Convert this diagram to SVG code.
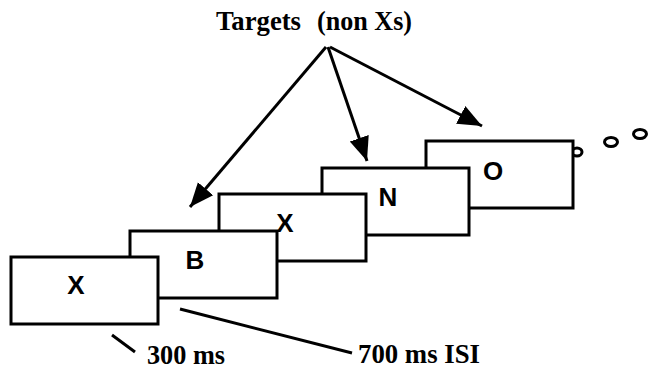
<svg xmlns="http://www.w3.org/2000/svg" width="648" height="370" viewBox="0 0 648 370">
<defs>
<style>
.box{fill:#fff;stroke:#000;stroke-width:3}
.let{font-family:"Liberation Sans",Arial,sans-serif;font-weight:bold;font-size:26px;fill:#000;text-anchor:middle}
.lab{font-family:"Liberation Serif","Times New Roman",serif;font-weight:bold;font-size:28px;fill:#000}
.ln{stroke:#000;stroke-width:3;fill:none}
.dot{fill:none;stroke:#000;stroke-width:3}
</style>
<marker id="ah" markerUnits="userSpaceOnUse" markerWidth="26" markerHeight="22" viewBox="0 0 26 22" refX="24" refY="11" orient="auto">
<path d="M0,1 L24,11 L0,21 Z" fill="#000"/>
</marker>
</defs>
<rect width="648" height="370" fill="#fff"/>
<g id="dots">
<ellipse class="dot" cx="577" cy="152" rx="5" ry="4"/>
<ellipse class="dot" cx="611" cy="142" rx="6.5" ry="4.5"/>
<ellipse class="dot" cx="640" cy="134" rx="6.5" ry="4.5"/>
</g>
<g id="stim-O"><rect class="box" x="426" y="141" width="147" height="67"/><text class="let" x="493" y="180">O</text></g>
<g id="stim-N"><rect class="box" x="322" y="168" width="147" height="67"/><text class="let" x="388" y="206">N</text></g>
<g id="stim-X2"><rect class="box" x="219" y="194" width="147" height="67"/><text class="let" x="285" y="232">X</text></g>
<g id="stim-B"><rect class="box" x="130" y="231" width="147" height="67"/><text class="let" x="195" y="269">B</text></g>
<g id="stim-X1"><rect class="box" x="11" y="257" width="147" height="67"/><text class="let" x="76" y="294">X</text></g>
<g id="targets-label"><text class="lab" x="216" y="30" textLength="85" lengthAdjust="spacingAndGlyphs">Targets</text><text class="lab" x="317" y="30" textLength="95" lengthAdjust="spacingAndGlyphs">(non Xs)</text></g>
<g id="label-300"><text class="lab" x="147" y="364" textLength="78" lengthAdjust="spacingAndGlyphs">300 ms</text></g>
<g id="label-700"><text class="lab" x="358" y="363" textLength="122" lengthAdjust="spacingAndGlyphs">700 ms ISI</text></g>
<g id="connectors">
<line class="ln" x1="326" y1="47" x2="190" y2="207" marker-end="url(#ah)"/>
<line class="ln" x1="328" y1="47" x2="367" y2="161" marker-end="url(#ah)"/>
<line class="ln" x1="330" y1="47" x2="482" y2="126" marker-end="url(#ah)"/>
<line class="ln" x1="112" y1="335" x2="135" y2="352"/>
<line class="ln" x1="180" y1="309" x2="352" y2="353"/>
</g>
</svg>
